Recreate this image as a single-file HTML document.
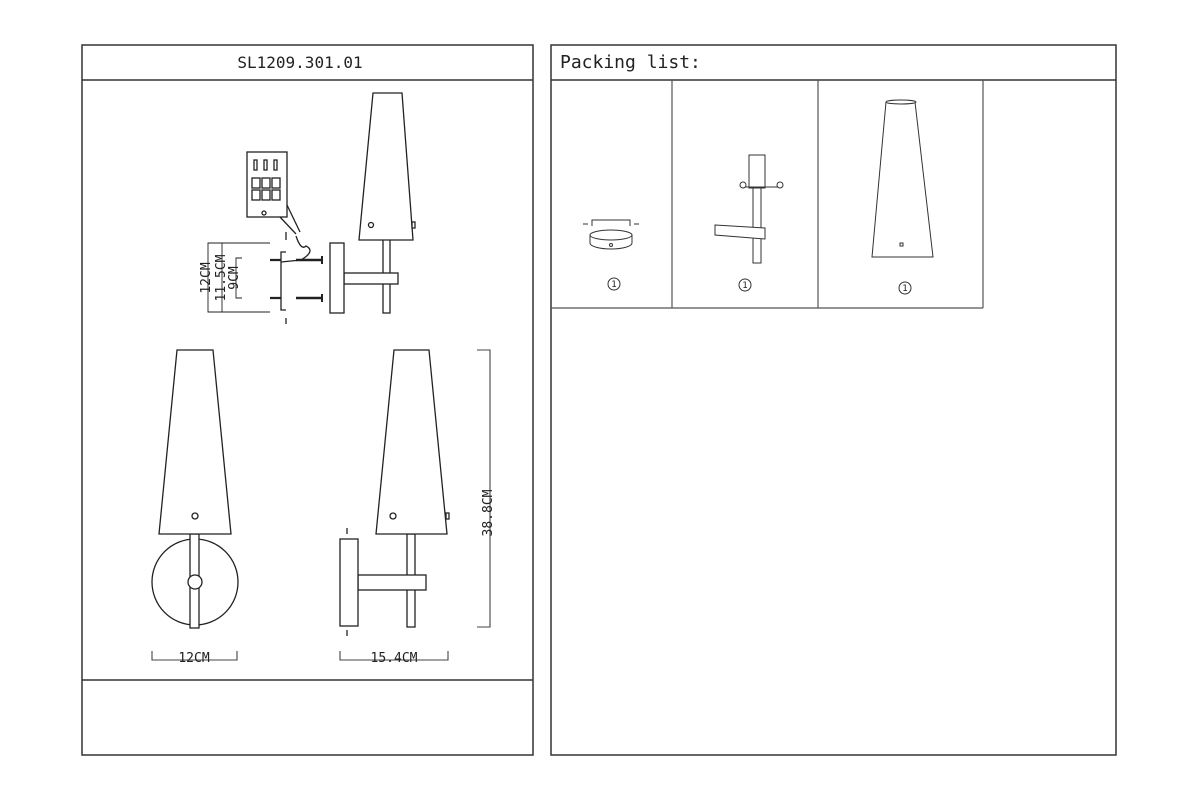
<!DOCTYPE html>
<html><head><meta charset="utf-8"><style>
html,body{margin:0;padding:0;background:#fff;width:1200px;height:800px;overflow:hidden}
svg{display:block}
text{font-family:"DejaVu Sans Mono","Liberation Mono",monospace;fill:#222}
</style></head><body>
<svg width="1200" height="800" viewBox="0 0 1200 800" xmlns="http://www.w3.org/2000/svg">
<g fill="none" stroke="#333" stroke-width="1.5">
<rect x="82" y="45" width="451" height="710"/>
<line x1="82" y1="80" x2="533" y2="80"/>
<line x1="82" y1="680" x2="533" y2="680"/>
<rect x="551" y="45" width="565" height="710"/>
<line x1="551" y1="80" x2="1116" y2="80"/>
</g>
<g fill="none" stroke="#555" stroke-width="1.2">
<line x1="551" y1="308" x2="983" y2="308"/>
<line x1="983" y1="80" x2="983" y2="308"/>
<line x1="672" y1="80" x2="672" y2="308"/>
<line x1="818" y1="80" x2="818" y2="308"/>
</g>
<text x="300" y="68" font-size="16" text-anchor="middle">SL1209.301.01</text>
<text x="560" y="68" font-size="18" font-family="Liberation Mono">Packing list:</text>

<g fill="#fff" stroke="#222" stroke-width="1.3">
<rect x="383" y="238" width="7" height="75"/>
<rect x="344" y="273" width="54" height="11"/>
<rect x="330" y="243" width="14" height="70"/>
<polygon points="373,93 402,93 413,240 359,240"/>
<circle cx="371" cy="225" r="2.5"/>
<rect x="412" y="222" width="3" height="6"/>
<rect x="247" y="152" width="40" height="65"/>
<polyline points="287,205 300,232"/><polyline points="280,217 296,234"/>
<rect x="252" y="178" width="8" height="10"/><rect x="262" y="178" width="8" height="10"/><rect x="272" y="178" width="8" height="10"/>
<rect x="252" y="190" width="8" height="10"/><rect x="262" y="190" width="8" height="10"/><rect x="272" y="190" width="8" height="10"/>
<rect x="254" y="160" width="3" height="10"/><rect x="264" y="160" width="3" height="10"/><rect x="274" y="160" width="3" height="10"/>
<circle cx="264" cy="213" r="2"/>
<polyline points="286,252 281,252 281,310 286,310"/>
<path d="M296,236 q5,15 10,10 q10,5 -5,14 l-20,2"/>
<line x1="262" y1="260" x2="281" y2="260" stroke-width="2.2"/>
<line x1="262" y1="298" x2="281" y2="298" stroke-width="2.2"/>
<line x1="296" y1="260" x2="322" y2="260" stroke-width="2.4"/>
<line x1="296" y1="298" x2="322" y2="298" stroke-width="2.4"/>
<line x1="322" y1="256" x2="322" y2="264" stroke-width="2"/>
<line x1="322" y1="294" x2="322" y2="302" stroke-width="2"/>
<line x1="286" y1="232" x2="286" y2="240"/><line x1="286" y1="318" x2="286" y2="324"/>
<polyline points="270,243 208,243 208,312 270,312" stroke-width="0.9"/>
<polyline points="222,243 222,312" stroke-width="0.9"/>
<polyline points="242,258 236,258 236,298 242,298" stroke-width="0.9"/>

<circle cx="195" cy="582" r="43"/>
<rect x="190" y="534" width="9" height="94"/>
<circle cx="195" cy="582" r="7"/>
<polygon points="177,350 213,350 231,534 159,534"/>
<circle cx="195" cy="516" r="3"/>
<rect x="407" y="534" width="8" height="93"/>
<rect x="358" y="575" width="68" height="15"/>
<rect x="340" y="539" width="18" height="87"/>
<polygon points="394,350 429,350 447,534 376,534"/>
<circle cx="393" cy="516" r="3"/>
<rect x="446" y="513" width="3" height="6"/>
<line x1="347" y1="528" x2="347" y2="534"/><line x1="347" y1="630" x2="347" y2="636"/>
</g>
<g fill="none" stroke="#444" stroke-width="1.1">
<polyline points="477,350 490,350 490,627 477,627"/>
<polyline points="152,651 152,660 237,660 237,651"/>
<polyline points="340,651 340,660 448,660 448,651"/>
</g>
<text x="194" y="662" font-size="13" text-anchor="middle">12CM</text>
<text x="394" y="662" font-size="13" text-anchor="middle">15.4CM</text>
<text transform="translate(492,513) rotate(-90)" font-size="13" text-anchor="middle">38.8CM</text>
<text transform="translate(210,278) rotate(-90)" font-size="13" text-anchor="middle">12CM</text>
<text transform="translate(225,278) rotate(-90)" font-size="13" text-anchor="middle">11.5CM</text>
<text transform="translate(238,278) rotate(-90)" font-size="13" text-anchor="middle">9CM</text>

<g fill="#fff" stroke="#333" stroke-width="1">
<polyline points="592,226 592,220 630,220 630,226"/>
<line x1="583" y1="224" x2="588" y2="224"/><line x1="634" y1="224" x2="639" y2="224"/>
<path d="M590,235 v8 a21,6 0 0 0 42,0 v-8"/>
<ellipse cx="611" cy="235" rx="21" ry="5"/>
<circle cx="611" cy="245" r="1.5"/>
<rect x="749" y="155" width="16" height="33"/>
<rect x="753" y="188" width="8" height="75"/>
<polygon points="715,225 765,228 765,239 715,235"/>
<line x1="742" y1="187" x2="782" y2="187"/>
<circle cx="743" cy="185" r="3"/><circle cx="780" cy="185" r="3"/>
<polygon points="886,102 915,102 933,257 872,257"/>
<ellipse cx="901" cy="102" rx="15" ry="2"/>
<rect x="900" y="243" width="3" height="3"/>
<circle cx="614" cy="284" r="6"/><circle cx="745" cy="285" r="6"/><circle cx="905" cy="288" r="6"/>
</g>
<g font-size="9" text-anchor="middle">
<text x="614" y="287">1</text><text x="745" y="288">1</text><text x="905" y="291">1</text>
</g>
</svg>
</body></html>
